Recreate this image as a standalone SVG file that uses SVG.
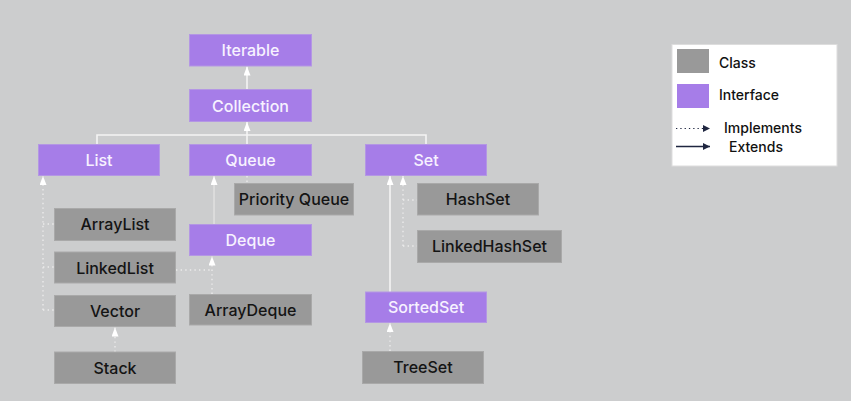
<svg xmlns="http://www.w3.org/2000/svg" width="851" height="401" viewBox="0 0 851 401">
<defs>
<style>
.bg{fill:#cccdce}
.int rect{fill:#a67de8;stroke:#b497e4;stroke-width:1}
.cls rect{fill:#999999;stroke:#a9a9a9;stroke-width:1}
.int text{fill:#f7f2ff}
.cls text{fill:#141414}
text{font-family:Inter,"Open Sans",sans-serif;font-size:16px;text-anchor:middle;font-weight:500}
.solid{fill:none;stroke:#f4f4f4;stroke-width:1.6}
.soft{fill:none;stroke:#e2e2e2;stroke-width:1.4}
.dot{fill:none;stroke:#ececec;stroke-width:1.4;stroke-dasharray:1.4 3.2}
.leg text{fill:#111;font-size:14px;text-anchor:start}
</style>
<marker id="aw" viewBox="0 0 10 10" refX="10" refY="5" markerWidth="9" markerHeight="7" markerUnits="userSpaceOnUse" orient="auto" preserveAspectRatio="none"><path d="M0,0 L10,5 L0,10 z" fill="#ffffff"/></marker>
<marker id="ad" viewBox="0 0 10 10" refX="10" refY="5" markerWidth="7" markerHeight="7" markerUnits="userSpaceOnUse" orient="auto"><path d="M0,0 L10,5 L0,10 z" fill="#1f2640"/></marker>
</defs>
<rect class="bg" x="0" y="0" width="851" height="401"/>

<g id="connectors">
<line class="solid" x1="247" y1="89" x2="247" y2="66.5" marker-end="url(#aw)"/>
<path class="solid" d="M97,144 V135 H426 V144"/>
<path class="solid" d="M247,144 V135"/>
<line class="solid" x1="247" y1="135" x2="247" y2="122" marker-end="url(#aw)"/>
<line class="dot" x1="247" y1="176" x2="247" y2="183"/>
<line class="soft" x1="214" y1="224" x2="214" y2="176" marker-end="url(#aw)"/>
<line class="dot" x1="43" y1="310" x2="43" y2="176" marker-end="url(#aw)"/>
<line class="dot" x1="43" y1="224" x2="54" y2="224"/>
<line class="dot" x1="43" y1="267" x2="54" y2="267"/>
<line class="dot" x1="43" y1="310" x2="54" y2="310"/>
<path class="dot" d="M176,270 H212"/>
<line class="dot" x1="212" y1="294" x2="212" y2="256.5" marker-end="url(#aw)"/>
<line class="dot" x1="115" y1="352" x2="115" y2="327.5" marker-end="url(#aw)"/>
<line class="solid" x1="390" y1="292" x2="390" y2="176" marker-end="url(#aw)"/>
<line class="dot" x1="403" y1="246" x2="403" y2="176" marker-end="url(#aw)"/>
<line class="dot" x1="403" y1="200" x2="417" y2="200"/>
<line class="dot" x1="403" y1="246" x2="417" y2="246"/>
<line class="dot" x1="390" y1="351" x2="390" y2="323" marker-end="url(#aw)"/>
</g>

<g id="iterable" class="int"><rect x="189.5" y="34.5" width="122" height="31.5"/><text x="250.5" y="56">Iterable</text></g>
<g id="collection" class="int"><rect x="189.5" y="89.5" width="122" height="32"/><text x="250.5" y="111.5">Collection</text></g>
<g id="list" class="int"><rect x="38.5" y="144.5" width="121" height="31"/><text x="99" y="166">List</text></g>
<g id="queue" class="int"><rect x="189.5" y="144.5" width="122" height="31"/><text x="250.5" y="166">Queue</text></g>
<g id="set" class="int"><rect x="365.5" y="144.5" width="121" height="31"/><text x="426" y="166">Set</text></g>
<g id="priorityqueue" class="cls"><rect x="234.5" y="183.5" width="119" height="31.5"/><text x="294" y="205">Priority Queue</text></g>
<g id="hashset" class="cls"><rect x="417.5" y="183.5" width="121" height="31.5"/><text x="478" y="205">HashSet</text></g>
<g id="arraylist" class="cls"><rect x="54.5" y="208.5" width="121" height="32"/><text x="115" y="230">ArrayList</text></g>
<g id="deque" class="int"><rect x="189.5" y="224.5" width="122" height="31"/><text x="250.5" y="246">Deque</text></g>
<g id="linkedhashset" class="cls"><rect x="417.5" y="230.5" width="144" height="32"/><text x="489.5" y="252">LinkedHashSet</text></g>
<g id="linkedlist" class="cls"><rect x="54.5" y="252" width="121" height="31"/><text x="115" y="273.5">LinkedList</text></g>
<g id="vector" class="cls"><rect x="54.5" y="295.5" width="121" height="31"/><text x="115" y="317">Vector</text></g>
<g id="arraydeque" class="cls"><rect x="189.5" y="294.5" width="122" height="30.5"/><text x="250.5" y="316">ArrayDeque</text></g>
<g id="sortedset" class="int"><rect x="365.5" y="292" width="121" height="30.5"/><text x="426" y="313">SortedSet</text></g>
<g id="stack" class="cls"><rect x="54.5" y="352" width="121" height="31.5"/><text x="115" y="373.5">Stack</text></g>
<g id="treeset" class="cls"><rect x="362.5" y="351.5" width="121" height="32"/><text x="423" y="373">TreeSet</text></g>

<g id="legend" class="leg">
<rect x="672" y="44.5" width="165" height="121.5" fill="#ffffff" stroke="#dddddd" stroke-width="1"/>
<rect x="677" y="49" width="32" height="24" fill="#999999"/>
<text x="719" y="67.5">Class</text>
<rect x="677" y="84" width="32" height="24" fill="#a67de8"/>
<text x="719" y="100">Interface</text>
<line x1="676" y1="128.5" x2="710" y2="128.5" stroke="#1f2640" stroke-width="1.2" stroke-dasharray="1.3 3" marker-end="url(#ad)"/>
<text x="724" y="132.5">Implements</text>
<line x1="676" y1="146.5" x2="710" y2="146.5" stroke="#1f2640" stroke-width="1.4" marker-end="url(#ad)"/>
<text x="729" y="152">Extends</text>
</g>
</svg>
